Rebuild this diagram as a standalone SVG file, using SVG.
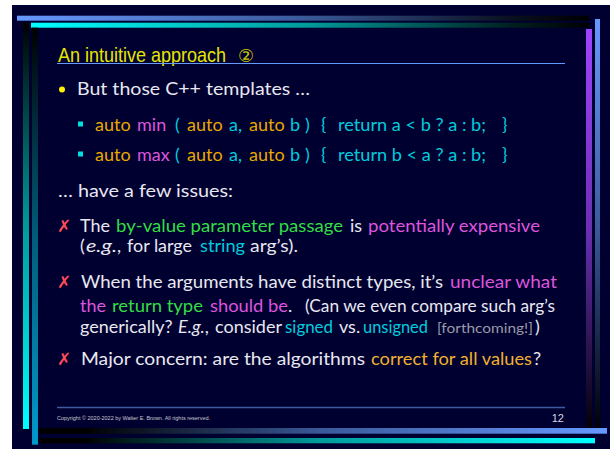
<svg xmlns="http://www.w3.org/2000/svg" width="610" height="449" viewBox="0 0 610 449">
<defs>
<linearGradient id="gTopBlue" x1="0" y1="0" x2="1" y2="0"><stop offset="0" stop-color="#6699ff"/><stop offset="0.5" stop-color="#3a5a9a"/><stop offset="0.86" stop-color="#0a1020"/><stop offset="1" stop-color="#000000"/></linearGradient>
<linearGradient id="gTopCyan" x1="0" y1="0" x2="1" y2="0"><stop offset="0" stop-color="#00ffff"/><stop offset="0.5" stop-color="#009a9a"/><stop offset="0.86" stop-color="#002020"/><stop offset="1" stop-color="#000000"/></linearGradient>
<linearGradient id="gBotBlue" x1="0" y1="0" x2="1" y2="0"><stop offset="0" stop-color="#000000"/><stop offset="0.08" stop-color="#000000"/><stop offset="0.5" stop-color="#3a5a9a"/><stop offset="1" stop-color="#6699ff"/></linearGradient>
<linearGradient id="gBotCyan" x1="0" y1="0" x2="1" y2="0"><stop offset="0" stop-color="#000000"/><stop offset="0.08" stop-color="#000000"/><stop offset="0.5" stop-color="#009a9a"/><stop offset="1" stop-color="#00ffff"/></linearGradient>
<linearGradient id="gLeftCyan" x1="0" y1="0" x2="0" y2="1"><stop offset="0" stop-color="#000000"/><stop offset="0.1" stop-color="#002020"/><stop offset="0.5" stop-color="#009a9a"/><stop offset="1" stop-color="#00ffff"/></linearGradient>
<linearGradient id="gLeftBlue" x1="0" y1="0" x2="0" y2="1"><stop offset="0" stop-color="#000000"/><stop offset="0.1" stop-color="#00141c"/><stop offset="0.5" stop-color="#005c7a"/><stop offset="1" stop-color="#0099cc"/></linearGradient>
<linearGradient id="gRightPurple" x1="0" y1="0" x2="0" y2="1"><stop offset="0" stop-color="#a044ff"/><stop offset="0.5" stop-color="#6a2fb0"/><stop offset="0.9" stop-color="#140828"/><stop offset="1" stop-color="#000000"/></linearGradient>
<linearGradient id="gRightBlue" x1="0" y1="0" x2="0" y2="1"><stop offset="0" stop-color="#6699ff"/><stop offset="0.5" stop-color="#3a5a9a"/><stop offset="0.9" stop-color="#0a1020"/><stop offset="1" stop-color="#000000"/></linearGradient>
</defs>
<style>
.t{font-family:Lato,"Open Sans",sans-serif;font-size:18px;fill:#e8e8f0}
.x{font-family:"DejaVu Sans",sans-serif;font-size:17px;fill:#ff4a5a}
.w{fill:#e8e8f0}.g{fill:#33dd44}.m{fill:#dd55dd}.c{fill:#00ccdd}.o{fill:#e8a800}.y{fill:#f0b030}.gr{fill:#9a9aa8;font-size:14px}
.i{font-style:italic}
</style>
<rect x="12" y="5" width="598" height="444" fill="#000030"/>
<g id="frame">
<rect x="17" y="15.7" width="572" height="5" fill="url(#gTopBlue)"/>
<rect x="31" y="22.7" width="558" height="5" fill="url(#gTopCyan)"/>
<rect x="23" y="22.7" width="6" height="406.3" fill="url(#gLeftCyan)"/>
<rect x="32" y="27.7" width="6" height="417" fill="url(#gLeftBlue)"/>
<rect x="586" y="29" width="6" height="404" fill="url(#gRightPurple)"/>
<rect x="595" y="19" width="5" height="414" fill="url(#gRightBlue)"/>
<rect x="39" y="428" width="568" height="5.7" fill="url(#gBotBlue)"/>
<rect x="39" y="438" width="556" height="5.3" fill="url(#gBotCyan)"/>
</g>
<g id="title">
<text transform="translate(58,62) scale(0.9,1)" font-family="'Liberation Sans',Arial,sans-serif" font-size="20" fill="#e6e600">An intuitive approach</text>
<text x="238" y="62" font-family="'DejaVu Sans',sans-serif" font-size="18" fill="#c8c800">②</text>
<line x1="57" y1="63.5" x2="565" y2="63.5" stroke="#6699ff" stroke-width="1.2"/>
</g>
<g id="bullet1">
<circle cx="62" cy="89.5" r="3" fill="#ffee00"/>
<text class="t" x="77" y="95" textLength="233" lengthAdjust="spacingAndGlyphs">But those C++ templates …</text>
</g>
<g id="code-min">
<rect x="78" y="121.5" width="5" height="5" fill="#00dddd"/>
<text class="t" y="130.7"><tspan class="o" x="95">auto</tspan><tspan class="m" x="137">min</tspan><tspan class="c" x="175">(</tspan><tspan class="o" x="187">auto</tspan><tspan class="c" x="229">a,</tspan><tspan class="o" x="249">auto</tspan><tspan class="c" x="290">b</tspan><tspan class="c" x="305">)</tspan><tspan class="c" x="321">{</tspan><tspan class="c" x="338" textLength="148" lengthAdjust="spacingAndGlyphs">return a &lt; b ? a : b;</tspan><tspan class="c" x="502">}</tspan></text>
</g>
<g id="code-max">
<rect x="78" y="151.5" width="5" height="5" fill="#00dddd"/>
<text class="t" y="160.5"><tspan class="o" x="95">auto</tspan><tspan class="m" x="137">max</tspan><tspan class="c" x="175">(</tspan><tspan class="o" x="187">auto</tspan><tspan class="c" x="229">a,</tspan><tspan class="o" x="249">auto</tspan><tspan class="c" x="290">b</tspan><tspan class="c" x="305">)</tspan><tspan class="c" x="321">{</tspan><tspan class="c" x="338" textLength="148" lengthAdjust="spacingAndGlyphs">return b &lt; a ? a : b;</tspan><tspan class="c" x="502">}</tspan></text>
</g>
<g id="issues-intro">
<text class="t" x="58" y="196.7" textLength="175" lengthAdjust="spacingAndGlyphs">… have a few issues:</text>
</g>
<g id="issue1">
<text class="x" x="57" y="231.7">✗</text>
<text class="t" y="231.7"><tspan x="80">The</tspan><tspan class="g" x="116" textLength="227" lengthAdjust="spacingAndGlyphs">by-value parameter passage</tspan><tspan x="350">is</tspan><tspan class="m" x="368" textLength="172" lengthAdjust="spacingAndGlyphs">potentially expensive</tspan></text>
<text class="t" y="251.7"><tspan x="80">(</tspan><tspan class="i" x="86" textLength="31" lengthAdjust="spacingAndGlyphs">e.g.</tspan><tspan>,</tspan><tspan x="127" textLength="65" lengthAdjust="spacingAndGlyphs">for large</tspan><tspan class="c" x="200" textLength="45" lengthAdjust="spacingAndGlyphs">string</tspan><tspan x="250" textLength="48" lengthAdjust="spacingAndGlyphs">arg’s).</tspan></text>
</g>
<g id="issue2">
<text class="x" x="57" y="288">✗</text>
<text class="t" y="288"><tspan x="81" textLength="362" lengthAdjust="spacingAndGlyphs">When the arguments have distinct types, it’s</tspan><tspan class="m" x="450" textLength="107" lengthAdjust="spacingAndGlyphs">unclear what</tspan></text>
<text class="t" y="312.3"><tspan class="m" x="80">the</tspan><tspan class="g" x="112" textLength="91" lengthAdjust="spacingAndGlyphs">return type</tspan><tspan class="m" x="210" textLength="78" lengthAdjust="spacingAndGlyphs">should be</tspan><tspan>.</tspan><tspan x="305" textLength="250" lengthAdjust="spacingAndGlyphs">(Can we even compare such arg’s</tspan></text>
<text class="t" y="333.3"><tspan x="80">generically?</tspan><tspan class="i" x="178">E.g.</tspan><tspan>,</tspan><tspan x="215">consider</tspan><tspan class="c" x="285" textLength="48" lengthAdjust="spacingAndGlyphs">signed</tspan><tspan x="339">vs.</tspan><tspan class="c" x="363" textLength="65" lengthAdjust="spacingAndGlyphs">unsigned</tspan><tspan class="gr" x="437" textLength="96" lengthAdjust="spacingAndGlyphs">[forthcoming!]</tspan><tspan x="535">)</tspan></text>
</g>
<g id="issue3">
<text class="x" x="57" y="365">✗</text>
<text class="t" y="365"><tspan x="81" textLength="284" lengthAdjust="spacingAndGlyphs">Major concern:  are the algorithms</tspan><tspan class="y" x="371" textLength="161" lengthAdjust="spacingAndGlyphs">correct for all values</tspan><tspan x="533">?</tspan></text>
</g>
<g id="footer">
<line x1="57" y1="407.5" x2="565" y2="407.5" stroke="#3d5aa0" stroke-width="1.5"/>
<text x="57" y="420" font-family="'Liberation Sans',Arial,sans-serif" font-size="4.6" fill="#c8c8d0" textLength="153" lengthAdjust="spacingAndGlyphs">Copyright © 2020-2022 by Walter E. Brown.  All rights reserved.</text>
<text x="564" y="422" text-anchor="end" font-family="'Liberation Sans',Arial,sans-serif" font-size="11" fill="#d8d8e0">12</text>
</g>
</svg>
